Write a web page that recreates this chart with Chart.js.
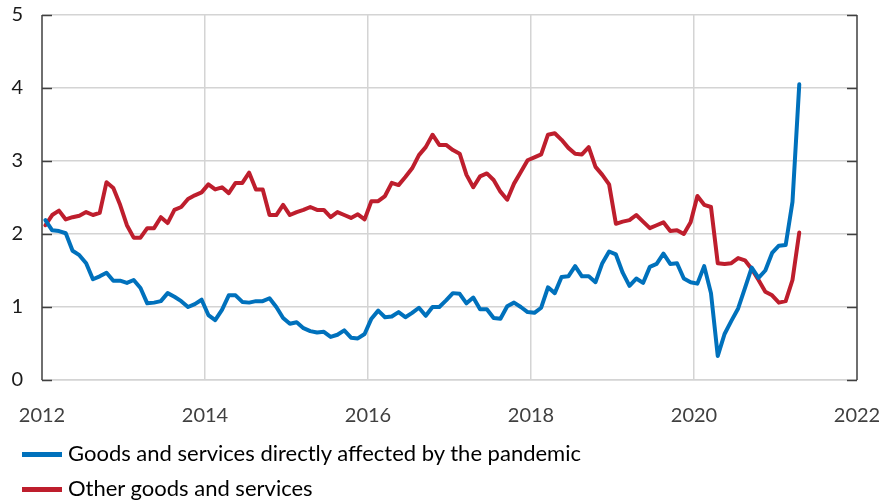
<!DOCTYPE html>
<html>
<head>
<meta charset="utf-8">
<script src="https://cdn.jsdelivr.net/npm/chart.js@4.4.1/dist/chart.umd.min.js"></script>
<style>
  html, body { margin: 0; padding: 0; background: #fff; }
  #wrap { position: relative; width: 882px; height: 502px; font-family: Lato, "Open Sans", sans-serif; }
  #chart { position: absolute; left: 0; top: 0; }
  .legend-item { position: absolute; left: 22px; height: 26px; line-height: 26px; font-size: 22px; color: #000; white-space: nowrap; }
  .legend-item .swatch { display: inline-block; width: 40px; height: 5px; margin-right: 6px; vertical-align: middle; position: relative; top: -1px; }
</style>
</head>
<body>
<div id="wrap">
  <canvas id="chart" width="882" height="502"></canvas>
  <div id="legend"></div>
</div>
<script>
// monthly series, Jan 2012 - Apr 2021
var startYear = 2012;

var affected = [
  2.19, 2.05, 2.04, 2.01, 1.77, 1.71, 1.60, 1.38, 1.42, 1.47, 1.36, 1.36,
  1.33, 1.37, 1.26, 1.05, 1.06, 1.08, 1.19, 1.14, 1.08, 1.00, 1.04, 1.10,
  0.89, 0.82, 0.96, 1.16, 1.16, 1.07, 1.06, 1.08, 1.08, 1.12, 1.00, 0.85,
  0.77, 0.79, 0.71, 0.67, 0.65, 0.66, 0.59, 0.62, 0.68, 0.58, 0.57, 0.63,
  0.84, 0.95, 0.86, 0.87, 0.93, 0.86, 0.92, 0.99, 0.88, 1.00, 1.00, 1.09,
  1.19, 1.18, 1.05, 1.13, 0.97, 0.97, 0.85, 0.84, 1.01, 1.06, 1.00, 0.93,
  0.92, 0.99, 1.27, 1.19, 1.41, 1.42, 1.56, 1.42, 1.42, 1.34, 1.60, 1.76,
  1.72, 1.47, 1.29, 1.39, 1.33, 1.55, 1.59, 1.73, 1.59, 1.60, 1.39, 1.34,
  1.32, 1.56, 1.19, 0.33, 0.63, 0.81, 0.98, 1.26, 1.54, 1.40, 1.50, 1.74,
  1.84, 1.85, 2.44, 4.05
];

var other = [
  2.12, 2.26, 2.32, 2.20, 2.23, 2.25, 2.30, 2.26, 2.29, 2.71, 2.63, 2.40,
  2.12, 1.95, 1.95, 2.08, 2.08, 2.23, 2.15, 2.33, 2.37, 2.48, 2.53, 2.57,
  2.68, 2.61, 2.64, 2.56, 2.70, 2.70, 2.84, 2.61, 2.61, 2.26, 2.26, 2.40,
  2.26, 2.30, 2.33, 2.37, 2.33, 2.33, 2.23, 2.30, 2.26, 2.22, 2.27, 2.20,
  2.45, 2.45, 2.52, 2.70, 2.67, 2.78, 2.90, 3.08, 3.19, 3.36, 3.22, 3.22,
  3.15, 3.10, 2.81, 2.64, 2.79, 2.83, 2.74, 2.58, 2.47, 2.69, 2.85, 3.01,
  3.05, 3.09, 3.36, 3.38, 3.29, 3.18, 3.10, 3.09, 3.19, 2.92, 2.81, 2.68,
  2.14, 2.17, 2.19, 2.26, 2.17, 2.08, 2.12, 2.16, 2.04, 2.05, 2.00, 2.16,
  2.52, 2.40, 2.37, 1.60, 1.59, 1.60, 1.67, 1.64, 1.52, 1.37, 1.21, 1.16,
  1.06, 1.08, 1.37, 2.02
];

var seriesNames = ["Goods and services directly affected by the pandemic", "Other goods and services"];
var seriesColors = ["#0071BC", "#BE1E2D"];
var xTicks = [2012, 2014, 2016, 2018, 2020, 2022];
var yTicks = [0, 1, 2, 3, 4, 5];

var gridColor = "#d4d4d4";
var axisColor = "#404040";

// month i sits in the middle of its month on the year axis
function toPoints(values) {
  return values.map(function (v, i) {
    return { x: startYear + (i + 0.5) / 12, y: v };
  });
}

// dark frame on the left/right with inward tick marks
var frameTicks = {
  id: "frameTicks",
  afterDatasetsDraw: function (chart) {
    var ctx = chart.ctx;
    var area = chart.chartArea;
    var y = chart.scales.y;
    ctx.save();
    ctx.strokeStyle = axisColor;
    ctx.lineWidth = 1.5;
    ctx.beginPath();
    ctx.moveTo(area.left, area.top);
    ctx.lineTo(area.left, area.bottom);
    ctx.moveTo(area.right, area.top);
    ctx.lineTo(area.right, area.bottom);
    yTicks.forEach(function (t) {
      var py = Math.round(y.getPixelForValue(t)) + 0.5;
      ctx.moveTo(area.left, py);
      ctx.lineTo(area.left + 10, py);
      ctx.moveTo(area.right - 10, py);
      ctx.lineTo(area.right, py);
    });
    ctx.stroke();
    ctx.restore();
  }
};

var ctx = document.getElementById("chart").getContext("2d");
var myChart = new Chart(ctx, {
  type: "line",
  data: {
    datasets: [{
      label: seriesNames[0],
      data: toPoints(affected),
      borderColor: seriesColors[0],
      backgroundColor: seriesColors[0],
      borderWidth: 4,
      pointRadius: 0,
      borderJoinStyle: "round",
      borderCapStyle: "round",
      tension: 0
    }, {
      label: seriesNames[1],
      data: toPoints(other),
      borderColor: seriesColors[1],
      backgroundColor: seriesColors[1],
      borderWidth: 4,
      pointRadius: 0,
      borderJoinStyle: "round",
      borderCapStyle: "round",
      tension: 0
    }]
  },
  options: {
    responsive: false,
    animation: false,
    events: [],
    layout: { padding: { left: 0, top: 15, right: 25, bottom: 72 } },
    plugins: {
      legend: { display: false },
      tooltip: { enabled: false }
    },
    scales: {
      x: {
        type: "linear",
        min: 2012,
        max: 2022,
        afterBuildTicks: function (scale) {
          scale.ticks = xTicks.map(function (v) { return { value: v }; });
        },
        afterFit: function (scale) {
          scale.height = 50;
          scale.paddingLeft = 0;
          scale.paddingRight = 0;
        },
        grid: {
          drawTicks: false,
          lineWidth: 1.5,
          color: function (c) {
            var v = c.tick ? c.tick.value : null;
            return (v === 2012 || v === 2022) ? "rgba(0,0,0,0)" : gridColor;
          }
        },
        border: { display: true, color: gridColor, width: 1.5 },
        ticks: {
          padding: 24,
          maxRotation: 0,
          color: "#404040",
          font: { family: "Lato", size: 20 },
          callback: function (v) { return String(v); }
        }
      },
      y: {
        min: 0,
        max: 5,
        afterBuildTicks: function (scale) {
          scale.ticks = yTicks.map(function (v) { return { value: v }; });
        },
        afterFit: function (scale) {
          scale.width = 42;
          scale.paddingTop = 0;
          scale.paddingBottom = 0;
        },
        grid: { drawTicks: false, lineWidth: 1.5, color: gridColor },
        border: { display: false },
        ticks: {
          padding: 19,
          color: "#1a1a1a",
          font: { family: "Lato", size: 20 },
          callback: function (v) { return String(v); }
        }
      }
    }
  },
  plugins: [frameTicks]
});

// legend, one item per row under the chart
var legendBox = document.getElementById("legend");
seriesNames.forEach(function (name, i) {
  var item = document.createElement("div");
  item.className = "legend-item";
  item.style.top = (440 + i * 35) + "px";
  var sw = document.createElement("span");
  sw.className = "swatch";
  sw.style.background = seriesColors[i];
  item.appendChild(sw);
  item.appendChild(document.createTextNode(name));
  legendBox.appendChild(item);
});
</script>
</body>
</html>
